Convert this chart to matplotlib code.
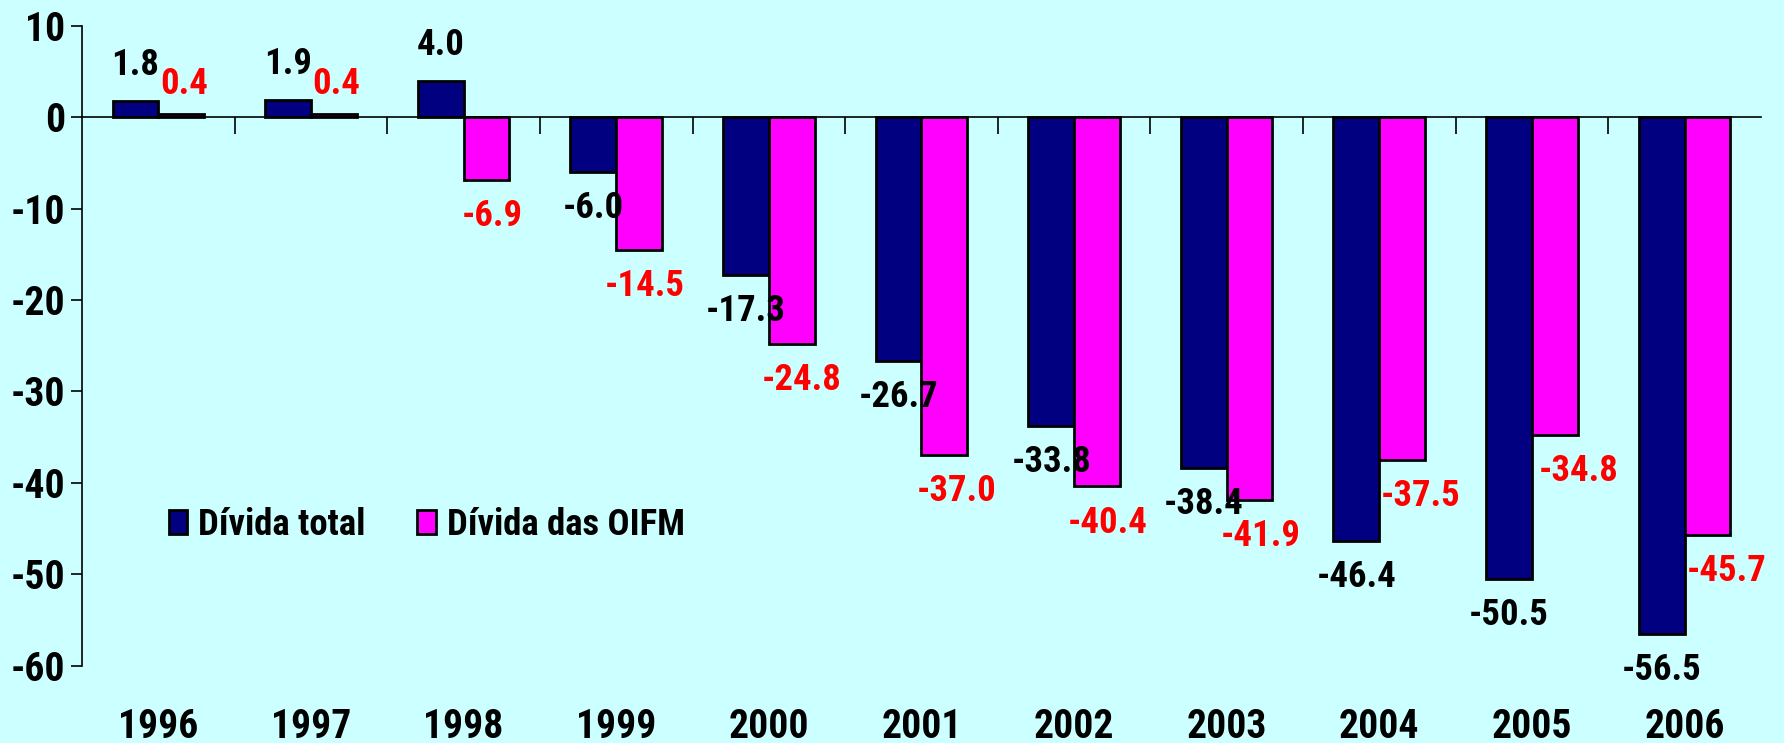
import numpy as np
import matplotlib
matplotlib.use("Agg")
import matplotlib.pyplot as plt
from matplotlib.transforms import blended_transform_factory

anos = ["1996", "1997", "1998", "1999", "2000", "2001",
        "2002", "2003", "2004", "2005", "2006"]
divida_total = [1.8, 1.9, 4.0, -6.0, -17.3, -26.7, -33.8, -38.4, -46.4, -50.5, -56.5]
divida_oifm = [0.4, 0.4, -6.9, -14.5, -24.8, -37.0, -40.4, -41.9, -37.5, -34.8, -45.7]
y_ticks = [10, 0, -10, -20, -30, -40, -50, -60]

# pequenos desvios horizontais (pontos) dos rotulos vermelhos, como no original
desvio_oifm = [2, 2, 4, 4, 7, 9, 8, 8, 13, 17, 14]

fundo = "#CCFFFF"
cor_total = "#000080"
cor_oifm = "#FF00FF"

plt.rcParams["font.family"] = ["Roboto Condensed", "DejaVu Sans"]
plt.rcParams["font.weight"] = "bold"

fig = plt.figure(figsize=(17.84, 7.43), dpi=100, facecolor=fundo)
ax = fig.add_axes([0.046, 0.1042, 0.941, 0.8611])
ax.set_facecolor(fundo)

x = np.arange(len(anos))
larg = 0.3
ax.bar(x - larg / 2, divida_total, larg, color=cor_total, edgecolor="black",
       linewidth=2, label="Dívida total", zorder=2)
ax.bar(x + larg / 2, divida_oifm, larg, color=cor_oifm, edgecolor="black",
       linewidth=2, label="Dívida das OIFM", zorder=2)

for xi, v in zip(x, divida_total):
    off = 26 if v > 0 else -26
    ax.annotate(f"{v:.1f}", (xi - larg / 2, v), xytext=(0, off), textcoords="offset points",
                ha="center", va="center", fontsize=26.5, fontweight="bold",
                color="black", zorder=5)
for xi, v, d in zip(x, divida_oifm, desvio_oifm):
    off = 21 if v > 0 else -26
    ax.annotate(f"{v:.1f}", (xi + larg / 2, v), xytext=(d, off), textcoords="offset points",
                ha="center", va="center", fontsize=26.5, fontweight="bold",
                color="red", zorder=5)

ax.set_xlim(-0.5, len(anos) - 0.5)
ax.set_ylim(-60, 10)
ax.set_yticks(y_ticks)
ax.set_yticklabels([str(t) for t in y_ticks], fontsize=28.5, fontweight="bold")
ax.tick_params(axis="y", direction="out", length=8, width=1.2, pad=4)

ax.spines["top"].set_visible(False)
ax.spines["right"].set_visible(False)
ax.spines["bottom"].set_position(("data", 0))
ax.spines["left"].set_linewidth(1.2)
ax.spines["bottom"].set_linewidth(1.2)
ax.set_xticks(np.arange(0.5, len(anos) - 0.5, 1))
ax.set_xticklabels([])
ax.tick_params(axis="x", direction="out", length=12, width=1.2)

trans = blended_transform_factory(ax.transData, ax.transAxes)
for xi, ano in zip(x, anos):
    ax.text(xi, -0.096, ano, transform=trans, ha="center", va="center",
            fontsize=28.5, fontweight="bold")

ax.legend(loc="center left", bbox_to_anchor=(0.032, 0.22), ncol=2, frameon=False,
          handlelength=0.5, handleheight=0.6, handletextpad=0.3,
          columnspacing=1.4, prop={"weight": "bold", "size": 26.5})

fig.savefig("out.png", dpi=100, facecolor=fundo)
